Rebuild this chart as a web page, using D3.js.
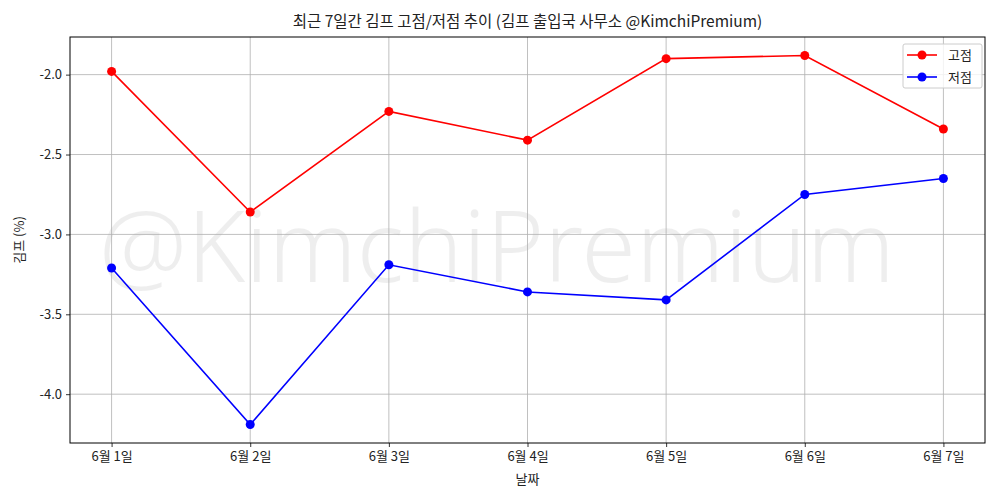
<!DOCTYPE html>
<html>
<head>
<meta charset="utf-8">
<script src="https://cdn.jsdelivr.net/npm/d3@7"></script>
<style>
  body { margin: 0; background: #fff; }
  svg { font-family: "Noto Sans CJK KR", "Noto Sans", sans-serif; }
</style>
</head>
<body>
<div id="chart"></div>
<script>
const dates = ["6월 1일", "6월 2일", "6월 3일", "6월 4일", "6월 5일", "6월 6일", "6월 7일"];
const highValues = [-1.98, -2.86, -2.23, -2.41, -1.90, -1.88, -2.34];
const lowValues = [-3.21, -4.19, -3.19, -3.36, -3.41, -2.75, -2.65];
const yTicks = [-2.0, -2.5, -3.0, -3.5, -4.0];
const seriesNames = ["고점", "저점"];
const seriesColors = ["#ff0000", "#0000ff"];

const width = 1000, height = 500;
const margin = { top: 37, right: 15, bottom: 57, left: 70 };
const plotW = width - margin.left - margin.right;
const plotH = height - margin.top - margin.bottom;

const svg = d3.select("#chart").append("svg")
  .attr("width", width)
  .attr("height", height);

// matplotlib-like 5% margins
const x = d3.scaleLinear()
  .domain([-0.3, dates.length - 1 + 0.3])
  .range([margin.left, margin.left + plotW]);

const allVals = highValues.concat(lowValues);
const yMin = d3.min(allVals), yMax = d3.max(allVals);
const pad = (yMax - yMin) * 0.05;
const y = d3.scaleLinear()
  .domain([yMin - pad, yMax + pad])
  .range([margin.top + plotH, margin.top]);

// watermark (centered on the figure)
svg.append("text")
  .attr("x", width / 2 - 3)
  .attr("y", 282)
  .attr("text-anchor", "middle")
  .attr("font-size", 99)
  .attr("fill", "#000")
  .attr("fill-opacity", 0.065)
  .attr("font-family", "'Noto Sans', 'DejaVu Sans', sans-serif")
  .attr("font-weight", 300)
  .text("@KimchiPremium");

// grid
const grid = svg.append("g").attr("stroke", "#b0b0b0").attr("stroke-width", 0.8);
grid.selectAll("line.v").data(dates).join("line")
  .attr("x1", (d, i) => x(i)).attr("x2", (d, i) => x(i))
  .attr("y1", margin.top).attr("y2", margin.top + plotH);
grid.selectAll("line.h").data(yTicks).join("line")
  .attr("x1", margin.left).attr("x2", margin.left + plotW)
  .attr("y1", d => y(d)).attr("y2", d => y(d));

// axes
const xAxis = d3.axisBottom(x)
  .tickValues(d3.range(dates.length))
  .tickFormat(i => dates[i])
  .tickSize(4).tickPadding(5);
const gx = svg.append("g")
  .attr("transform", `translate(0,${margin.top + plotH})`)
  .call(xAxis);

const yAxis = d3.axisLeft(y)
  .tickValues(yTicks)
  .tickFormat(d3.format(".1f"))
  .tickSize(4).tickPadding(4);
const gy = svg.append("g")
  .attr("transform", `translate(${margin.left},0)`)
  .call(yAxis);

[gx, gy].forEach(g => {
  g.select(".domain").remove();
  g.selectAll("text").attr("font-size", 13).attr("fill", "#222")
    .attr("font-family", "'Noto Sans CJK KR', sans-serif");
  g.selectAll(".tick line").attr("stroke", "#000").attr("stroke-width", 0.8);
});
gy.selectAll("text").text(d => d3.format(".1f")(d).replace("−", "-"));

// frame
svg.append("rect")
  .attr("x", margin.left).attr("y", margin.top)
  .attr("width", plotW).attr("height", plotH)
  .attr("fill", "none").attr("stroke", "#000").attr("stroke-width", 1);

// lines
const line = d3.line().x((d, i) => x(i)).y(d => y(d));
[highValues, lowValues].forEach((vals, k) => {
  svg.append("path")
    .datum(vals)
    .attr("fill", "none")
    .attr("stroke", seriesColors[k])
    .attr("stroke-width", 1.6)
    .attr("d", line);
  svg.append("g").selectAll("circle").data(vals).join("circle")
    .attr("cx", (d, i) => x(i))
    .attr("cy", d => y(d))
    .attr("r", 4.5)
    .attr("fill", seriesColors[k]);
});

// title and labels
svg.append("text")
  .attr("x", margin.left + plotW / 2).attr("y", 27)
  .attr("text-anchor", "middle")
  .attr("font-size", 15.5).attr("fill", "#222")
  .text("최근 7일간 김프 고점/저점 추이 (김프 출입국 사무소 @KimchiPremium)");

svg.append("text")
  .attr("x", margin.left + plotW / 2).attr("y", 484)
  .attr("text-anchor", "middle")
  .attr("font-size", 13).attr("fill", "#222")
  .text("날짜");

svg.append("text")
  .attr("transform", `translate(24,${margin.top + plotH / 2}) rotate(-90)`)
  .attr("text-anchor", "middle")
  .attr("font-size", 13).attr("fill", "#222")
  .text("김프 (%)");

// legend
const lg = svg.append("g").attr("transform", "translate(903,44)");
lg.append("rect")
  .attr("width", 79).attr("height", 44).attr("rx", 2)
  .attr("fill", "#fff").attr("fill-opacity", 0.8)
  .attr("stroke", "#ccc").attr("stroke-width", 1);
seriesNames.forEach((name, k) => {
  const yy = 11 + k * 22;
  lg.append("line").attr("x1", 4).attr("x2", 34).attr("y1", yy).attr("y2", yy)
    .attr("stroke", seriesColors[k]).attr("stroke-width", 1.6);
  lg.append("circle").attr("cx", 19).attr("cy", yy).attr("r", 4.5).attr("fill", seriesColors[k]);
  lg.append("text").attr("x", 45).attr("y", yy + 4.5)
    .attr("font-size", 13).attr("fill", "#222").text(name);
});
</script>
</body>
</html>
